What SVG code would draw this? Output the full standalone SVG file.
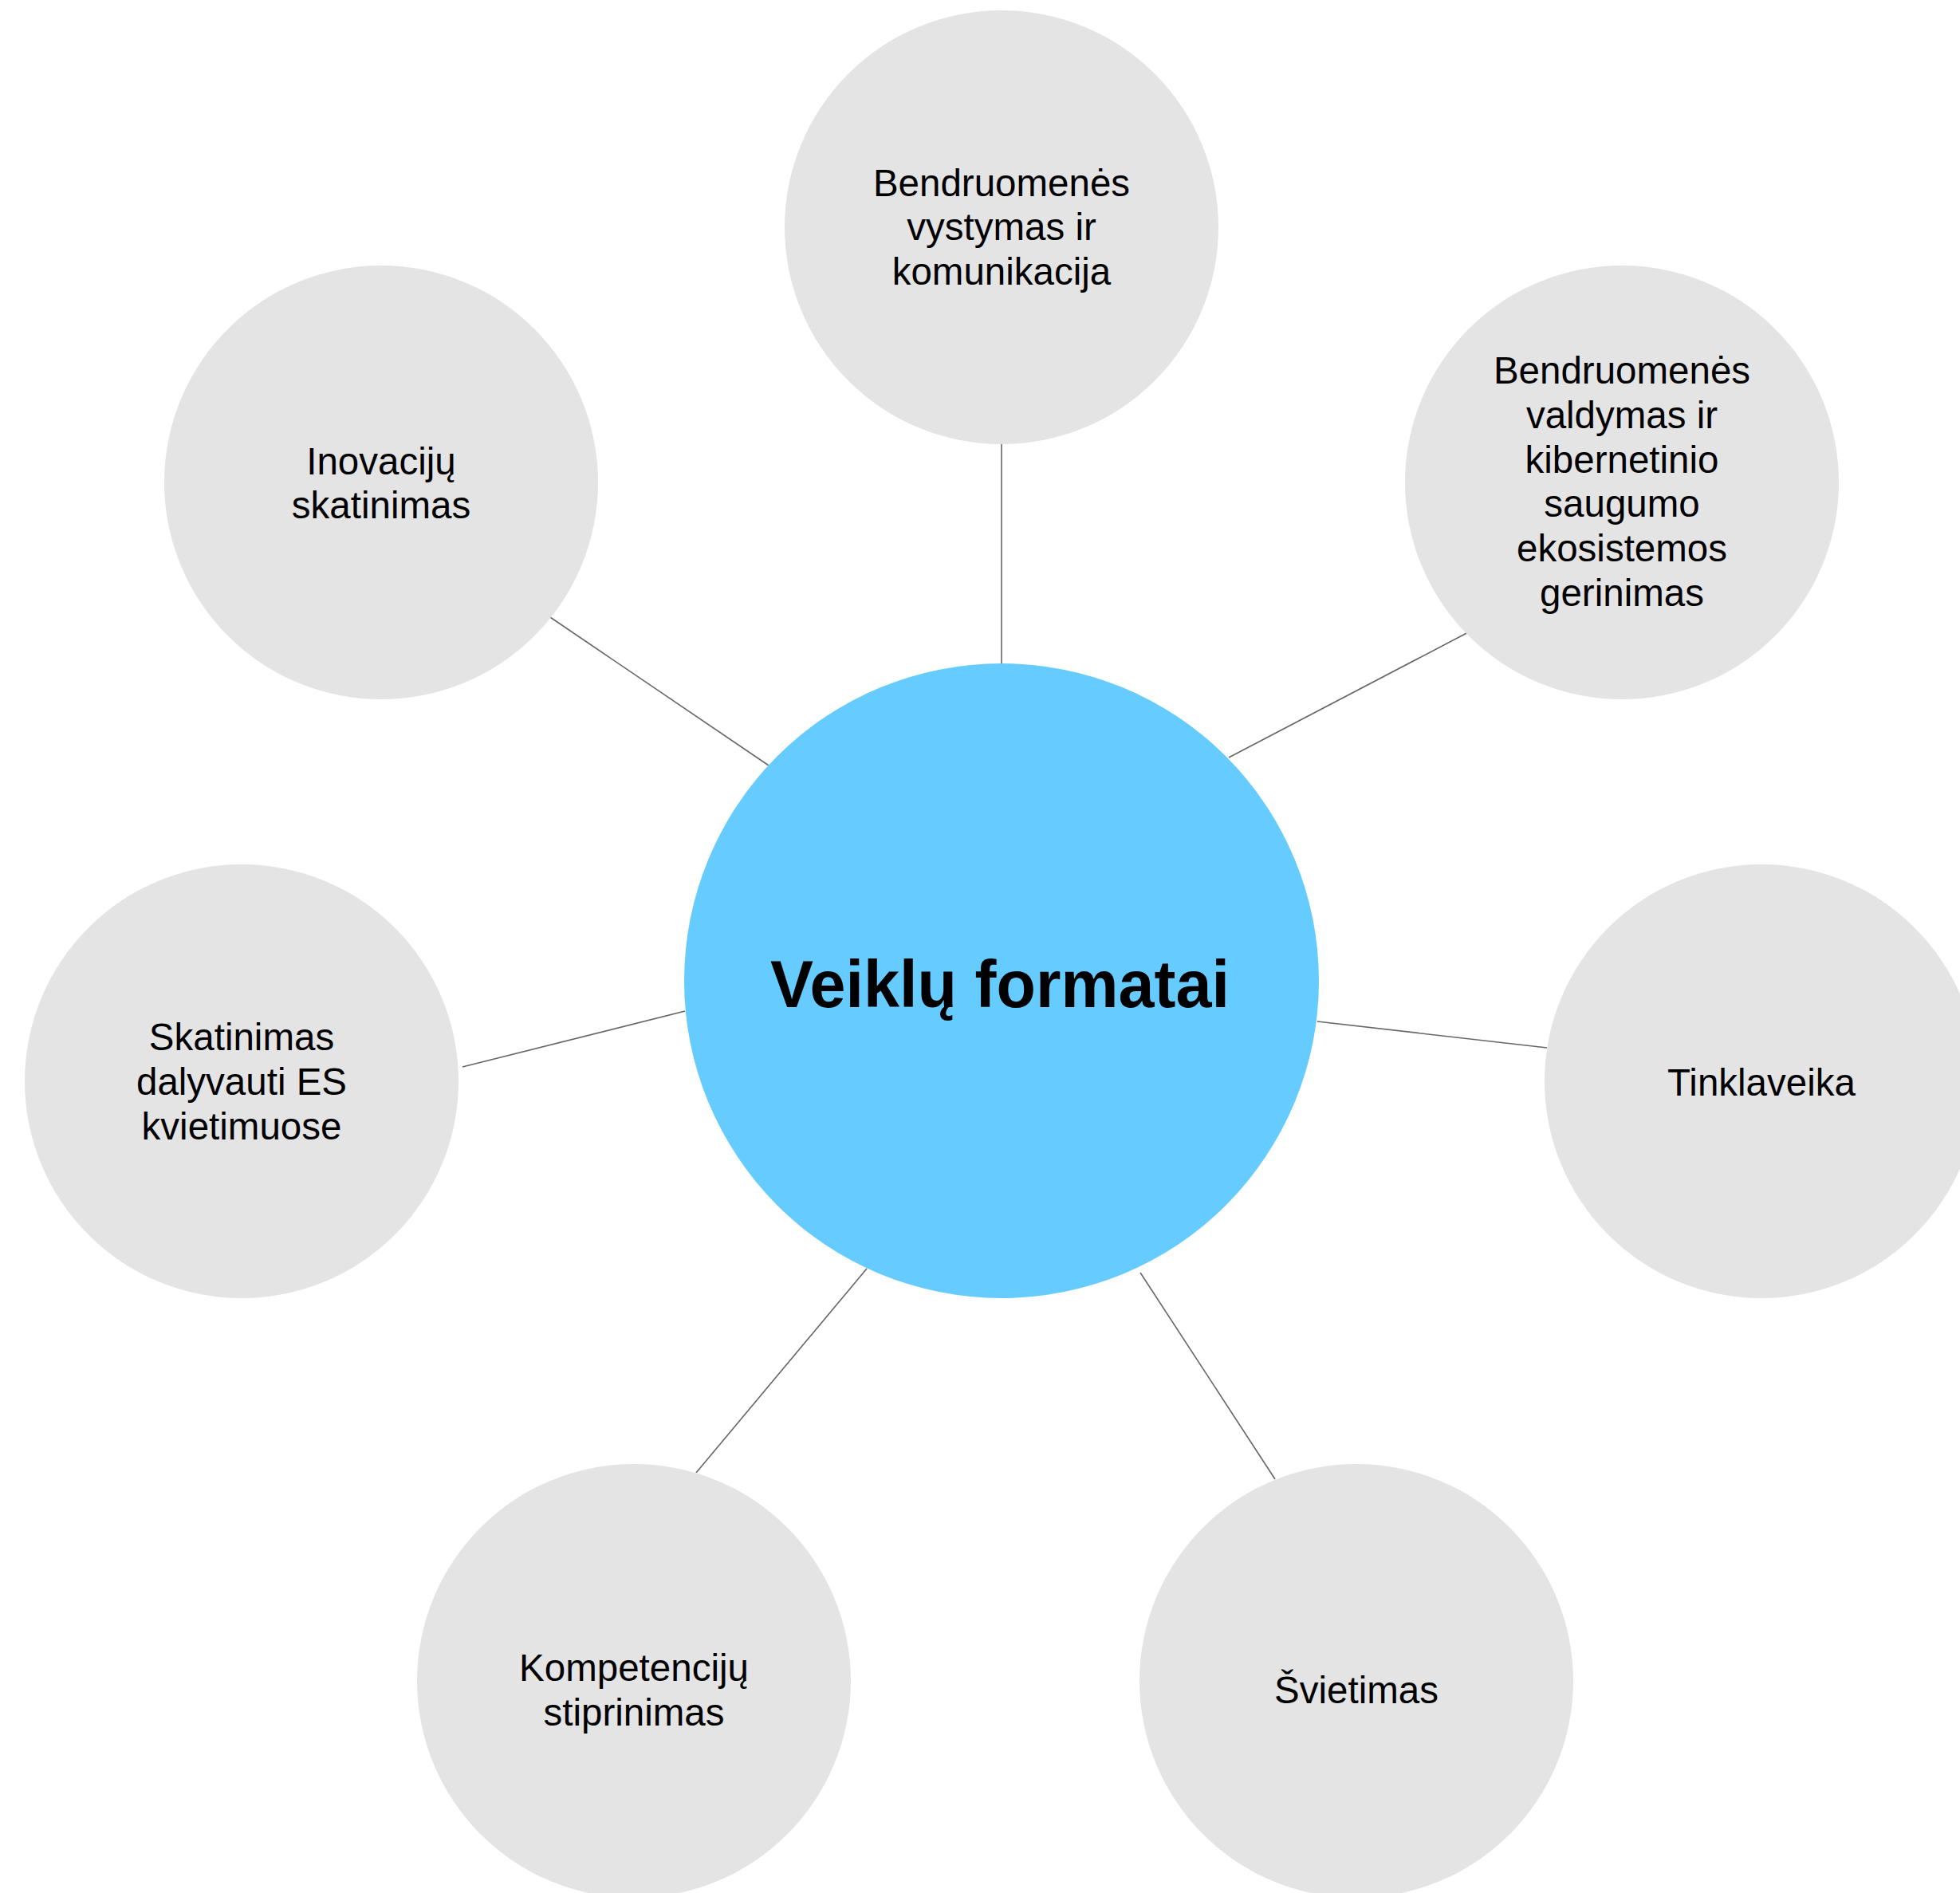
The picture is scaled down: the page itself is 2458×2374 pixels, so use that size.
<svg xmlns="http://www.w3.org/2000/svg" width="2458" height="2374" viewBox="0 0 2458 2374">
<style>
.sub{fill:#e4e4e4}
.hub{fill:#66ccff}
.lbl{font-family:"Liberation Sans",Arial,sans-serif;font-size:47.5px;fill:#000;text-anchor:middle}
.title{font-family:"Liberation Sans",Arial,sans-serif;font-size:84px;font-weight:bold;fill:#000;text-anchor:middle}
.conn line{stroke:#666;stroke-width:1.6}
</style>
<rect width="2458" height="2374" fill="#fff"/>
<g id="connectors" class="conn">
<line x1="1256" y1="557" x2="1256" y2="832"/>
<line x1="1845" y1="791" x2="1541" y2="950"/>
<line x1="1652" y1="1281" x2="1940" y2="1314"/>
<line x1="1430" y1="1596" x2="1599" y2="1855"/>
<line x1="1087" y1="1591" x2="873" y2="1847"/>
<line x1="580" y1="1338" x2="859" y2="1268"/>
<line x1="687" y1="772" x2="964" y2="960"/>
</g>
<g id="node-center">
<circle class="hub" cx="1256" cy="1230" r="398"/>
<text class="title" x="1254" y="1263" textLength="576" lengthAdjust="spacingAndGlyphs">Veiklų formatai</text>
</g>
<g id="node-top">
<circle class="sub" cx="1256" cy="285" r="272"/>
<text class="lbl" x="1256" y="246">Bendruomenės</text>
<text class="lbl" x="1256" y="301">vystymas ir</text>
<text class="lbl" x="1256" y="357">komunikacija</text>
</g>
<g id="node-top-right">
<circle class="sub" cx="2034" cy="605" r="272"/>
<text class="lbl" x="2034" y="481">Bendruomenės</text>
<text class="lbl" x="2034" y="537">valdymas ir</text>
<text class="lbl" x="2034" y="593">kibernetinio</text>
<text class="lbl" x="2034" y="648">saugumo</text>
<text class="lbl" x="2034" y="704">ekosistemos</text>
<text class="lbl" x="2034" y="760">gerinimas</text>
</g>
<g id="node-right">
<circle class="sub" cx="2209" cy="1356" r="272"/>
<text class="lbl" x="2209" y="1374">Tinklaveika</text>
</g>
<g id="node-bottom-right">
<circle class="sub" cx="1701" cy="2108" r="272"/>
<text class="lbl" x="1701" y="2136">Švietimas</text>
</g>
<g id="node-bottom-left">
<circle class="sub" cx="795" cy="2108" r="272"/>
<text class="lbl" x="795" y="2108">Kompetencijų</text>
<text class="lbl" x="795" y="2164">stiprinimas</text>
</g>
<g id="node-left">
<circle class="sub" cx="303" cy="1356" r="272"/>
<text class="lbl" x="303" y="1317">Skatinimas</text>
<text class="lbl" x="303" y="1373">dalyvauti ES</text>
<text class="lbl" x="303" y="1429">kvietimuose</text>
</g>
<g id="node-top-left">
<circle class="sub" cx="478" cy="605" r="272"/>
<text class="lbl" x="478" y="595">Inovacijų</text>
<text class="lbl" x="478" y="650">skatinimas</text>
</g>
</svg>
